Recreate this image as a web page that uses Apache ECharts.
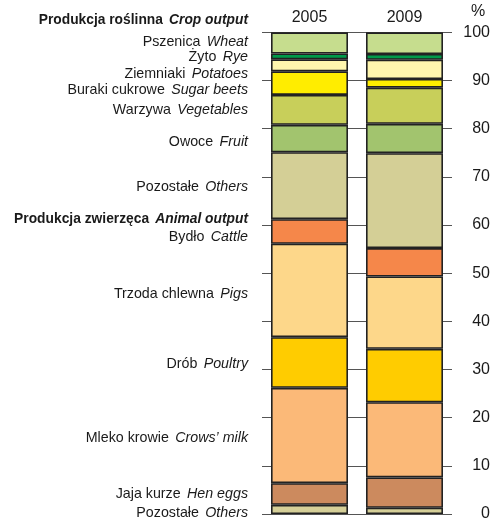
<!DOCTYPE html>
<html>
<head>
    <meta charset="utf-8">
    <title>Produkcja rolnicza</title>
    <style>
        body { margin: 0; background: #fff; }
        #main { width: 493px; height: 522px; }
    </style>
</head>
<body>
<div id="main"></div>
<script src="https://cdn.jsdelivr.net/npm/echarts@6/dist/echarts.min.js"></script>
<script>
    // lata
    var years = ['2005', '2009'];
    // kategorie od dołu do góry
    var categories = ['Pozostałe (zw.)', 'Jaja kurze', 'Mleko krowie', 'Drób', 'Trzoda chlewna', 'Bydło',
        'Pozostałe (rośl.)', 'Owoce', 'Warzywa', 'Buraki cukrowe', 'Ziemniaki', 'Żyto', 'Pszenica'];
    var values2005 = [1.9, 4.5, 19.8, 10.5, 19.4, 5.1, 13.9, 5.7, 6.2, 4.9, 2.5, 1.2, 4.4];
    var values2009 = [1.3, 6.3, 15.6, 11.1, 15.0, 5.9, 19.7, 6.1, 7.5, 1.8, 4.0, 1.2, 4.5];
    var colors = ['#d5cf98', '#cc8a5e', '#fbb978', '#ffcc00', '#fdd78a', '#f5874a',
        '#d4cf96', '#a2c46e', '#c8cf5a', '#ffed00', '#fff6ae', '#009a4a', '#c6dd8e'];
    var yTicks = [0, 100, 10];

    // opisy po lewej (od góry)
    var labels = [
        '{b|Produkcja roślinna}  {bi|Crop output}',
        '{n|Pszenica}  {i|Wheat}',
        '{n|Żyto}  {i|Rye}',
        '{n|Ziemniaki}  {i|Potatoes}',
        '{n|Buraki cukrowe}  {i|Sugar beets}',
        '{n|Warzywa}  {i|Vegetables}',
        '{n|Owoce}  {i|Fruit}',
        '{n|Pozostałe}  {i|Others}',
        '{b|Produkcja zwierzęca}  {bi|Animal output}',
        '{n|Bydło}  {i|Cattle}',
        '{n|Trzoda chlewna}  {i|Pigs}',
        '{n|Drób}  {i|Poultry}',
        '{n|Mleko krowie}  {i|Crows’ milk}',
        '{n|Jaja kurze}  {i|Hen eggs}',
        '{n|Pozostałe}  {i|Others}'
    ];
    var labelY = [20, 42, 57, 74, 90, 110, 142, 187, 219, 237, 294, 364, 438, 494, 513];

    var FONT = '"Liberation Sans Narrow", "Liberation Sans", sans-serif';
    var TXT = '#1a1a1a';
    var rich = {
        n: {fontFamily: FONT, fontSize: 15, fill: TXT},
        i: {fontFamily: FONT, fontSize: 15, fontStyle: 'italic', fill: TXT},
        b: {fontFamily: FONT, fontSize: 15, fontWeight: 'bold', fill: TXT},
        bi: {fontFamily: FONT, fontSize: 15, fontWeight: 'bold', fontStyle: 'italic', fill: TXT}
    };

    var chart = echarts.init(document.getElementById('main'));

    var series = categories.map(function (name, i) {
        return {
            name: name,
            type: 'bar',
            stack: 'total',
            barWidth: 77,
            data: [values2005[i], values2009[i]],
            itemStyle: {
                color: colors[i],
                borderColor: '#222',
                borderWidth: 1.6
            }
        };
    });

    var graphics = labels.map(function (t, i) {
        return {
            type: 'text',
            x: 248,
            y: labelY[i],
            scaleX: i === 0 || i === 8 ? 0.92 : 0.95,
            style: {
                text: t,
                rich: rich,
                align: 'right',
                verticalAlign: 'middle'
            }
        };
    });
    graphics.push({
        type: 'text',
        x: 478,
        y: 12,
        style: {
            text: '%',
            fontFamily: FONT,
            fontSize: 16,
            fill: TXT,
            align: 'center',
            verticalAlign: 'middle'
        }
    });

    chart.setOption({
        animation: false,
        grid: {
            left: 262,
            right: 39,
            top: 32.3,
            bottom: 6
        },
        xAxis: {
            type: 'category',
            position: 'top',
            data: years,
            axisLine: {show: false},
            axisTick: {show: false},
            axisLabel: {
                margin: 7,
                fontFamily: FONT,
                fontSize: 16,
                color: TXT
            }
        },
        yAxis: {
            type: 'value',
            position: 'right',
            min: yTicks[0],
            max: yTicks[1],
            interval: yTicks[2],
            axisLine: {show: false},
            axisTick: {show: false},
            splitLine: {lineStyle: {color: '#555', width: 1}},
            axisLabel: {
                align: 'right',
                margin: 38,
                fontFamily: FONT,
                fontSize: 16,
                color: TXT
            }
        },
        graphic: graphics,
        series: series
    });
</script>
</body>
</html>
